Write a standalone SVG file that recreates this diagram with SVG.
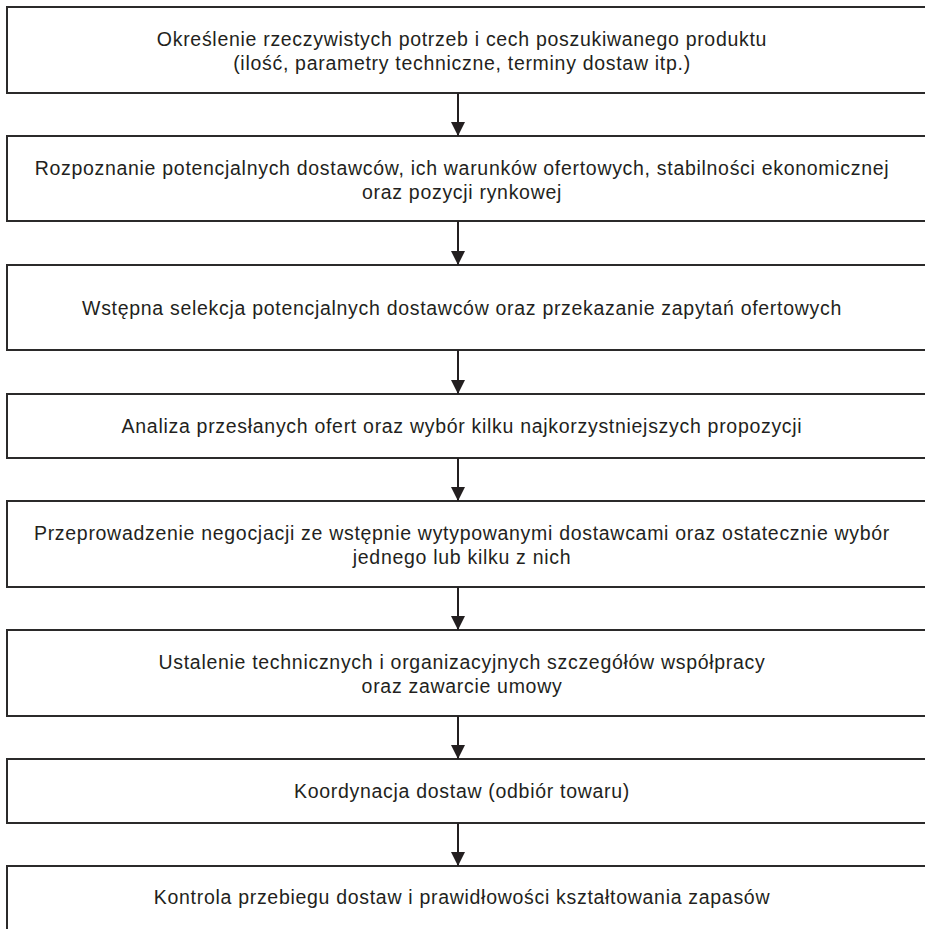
<svg xmlns="http://www.w3.org/2000/svg" width="925" height="929" viewBox="0 0 925 929">
  <defs>
    <style>
      .box { fill: #ffffff; stroke: #2b2a2a; stroke-width: 2; }
      .lbl { font-family: "Liberation Sans", Arial, sans-serif; font-size: 19.5px; letter-spacing: 0.7px; fill: #231f20; text-anchor: middle; }
      .conn { stroke: #231f20; stroke-width: 2; fill: none; }
    </style>
    <marker id="arrowhead" markerUnits="userSpaceOnUse" markerWidth="14" markerHeight="16" refX="14" refY="7" orient="auto" viewBox="0 0 14 14">
      <path d="M0,0 L14,7 L0,14 Z" fill="#231f20"/>
    </marker>
  </defs>
  <rect width="925" height="929" fill="#ffffff"/>

  <g id="n1">
    <rect class="box" x="7" y="7" width="930" height="86"/>
    <text class="lbl" x="462" y="46">Określenie rzeczywistych potrzeb i cech poszukiwanego produktu</text>
    <text class="lbl" x="462" y="70">(ilość, parametry techniczne, terminy dostaw itp.)</text>
  </g>
  <g id="n2">
    <rect class="box" x="7" y="136" width="930" height="85"/>
    <text class="lbl" x="462" y="175">Rozpoznanie potencjalnych dostawców, ich warunków ofertowych, stabilności ekonomicznej</text>
    <text class="lbl" x="462" y="199">oraz pozycji rynkowej</text>
  </g>
  <g id="n3">
    <rect class="box" x="7" y="265" width="930" height="85"/>
    <text class="lbl" x="462" y="315">Wstępna selekcja potencjalnych dostawców oraz przekazanie zapytań ofertowych</text>
  </g>
  <g id="n4">
    <rect class="box" x="7" y="394" width="930" height="64"/>
    <text class="lbl" x="462" y="433">Analiza przesłanych ofert oraz wybór kilku najkorzystniejszych propozycji</text>
  </g>
  <g id="n5">
    <rect class="box" x="7" y="501" width="930" height="86"/>
    <text class="lbl" x="462" y="540">Przeprowadzenie negocjacji ze wstępnie wytypowanymi dostawcami oraz ostatecznie wybór</text>
    <text class="lbl" x="462" y="564">jednego lub kilku z nich</text>
  </g>
  <g id="n6">
    <rect class="box" x="7" y="630" width="930" height="86"/>
    <text class="lbl" x="462" y="669">Ustalenie technicznych i organizacyjnych szczegółów współpracy</text>
    <text class="lbl" x="462" y="693">oraz zawarcie umowy</text>
  </g>
  <g id="n7">
    <rect class="box" x="7" y="759" width="930" height="64"/>
    <text class="lbl" x="462" y="798">Koordynacja dostaw (odbiór towaru)</text>
  </g>
  <g id="n8">
    <rect class="box" x="7" y="866" width="930" height="80"/>
    <text class="lbl" x="462" y="904">Kontrola przebiegu dostaw i prawidłowości kształtowania zapasów</text>
  </g>

  <g id="connectors">
    <line class="conn" x1="458" y1="93" x2="458" y2="136" marker-end="url(#arrowhead)"/>
    <line class="conn" x1="458" y1="221" x2="458" y2="265" marker-end="url(#arrowhead)"/>
    <line class="conn" x1="458" y1="350" x2="458" y2="394" marker-end="url(#arrowhead)"/>
    <line class="conn" x1="458" y1="458" x2="458" y2="501" marker-end="url(#arrowhead)"/>
    <line class="conn" x1="458" y1="587" x2="458" y2="630" marker-end="url(#arrowhead)"/>
    <line class="conn" x1="458" y1="716" x2="458" y2="759" marker-end="url(#arrowhead)"/>
    <line class="conn" x1="458" y1="823" x2="458" y2="866" marker-end="url(#arrowhead)"/>
  </g>
</svg>
